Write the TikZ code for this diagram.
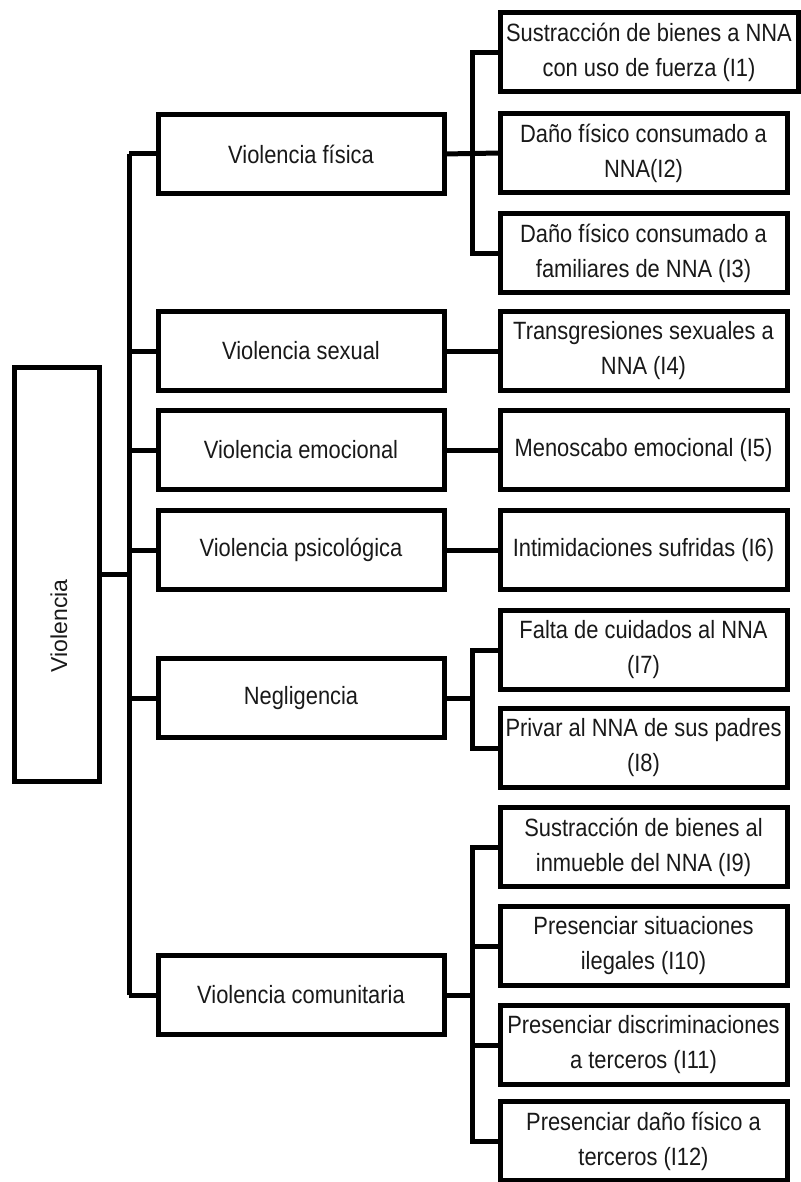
\documentclass[tikz,border=0pt]{standalone}
\usepackage{fontspec}
\newfontfamily\nar[FakeStretch=0.875]{Liberation Sans}
\newfontfamily\regf{Liberation Sans}
\begin{document}
\begin{tikzpicture}[x=1pt,y=-1pt,
  box/.style={draw=black,line width=5pt,rectangle,inner sep=0pt,outer sep=0pt,
    align=center,font=\nar\fontsize{25}{35}\selectfont,text=black!90},
  lvone/.style={box,minimum width=286pt,minimum height=79pt},
  lvtwo/.style={box,minimum width=287pt,minimum height=79pt},
  link/.style={draw=black,line width=5pt,line join=miter}]
\useasboundingbox[fill=white] (0,0) rectangle (800,1182);
% root
\node[box,minimum width=85pt,minimum height=414pt] (root) at (57,574) {};
\node[font=\regf\fontsize{23}{28}\selectfont,text=black!90,rotate=90,inner sep=0pt] (roottext) at (59,626) {Violencia};
% level 1
\node[lvone] (fis) at (301,154) {Violencia física};
\node[lvone] (sex) at (301,351) {Violencia sexual};
\node[lvone] (emo) at (301,450) {Violencia emocional};
\node[lvone] (psi) at (301,550) {Violencia psicológica};
\node[lvone] (neg) at (301,698) {Negligencia};
\node[lvone] (com) at (301,995) {Violencia comunitaria};
% level 2
\node[lvtwo,minimum width=298pt] (i1) at (649,52.5) {Sustracción de bienes a NNA\\con uso de fuerza (I1)};
\node[lvtwo] (i2) at (643.5,153) {Daño físico consumado a\\NNA(I2)};
\node[lvtwo] (i3) at (643.5,253) {Daño físico consumado a\\familiares de NNA (I3)};
\node[lvtwo] (i4) at (643.5,351) {Transgresiones sexuales a\\NNA (I4)};
\node[lvtwo] (i5) at (643.5,450) {Menoscabo emocional (I5)};
\node[lvtwo] (i6) at (643.5,550) {Intimidaciones sufridas (I6)};
\node[lvtwo] (i7) at (643.5,650) {Falta de cuidados al NNA\\(I7)};
\node[lvtwo] (i8) at (643.5,748) {Privar al NNA de sus padres\\(I8)};
\node[lvtwo] (i9) at (643.5,847) {Sustracción de bienes al\\inmueble del NNA (I9)};
\node[lvtwo] (i10) at (643.5,946) {Presenciar situaciones\\ilegales (I10)};
\node[lvtwo] (i11) at (643.5,1045) {Presenciar discriminaciones\\a terceros (I11)};
\node[lvtwo] (i12) at (643.5,1141) {Presenciar daño físico a\\terceros (I12)};
% bus coordinates
\coordinate (T) at (129,0);
\coordinate (B) at (472,0);
% root to trunk
\draw[link] (root.east) -- (T |- root.east);
\draw[link] (T |- fis.west) -- (T |- com.west);
\foreach \n in {fis,sex,emo,psi,neg,com}
  \draw[link] (T |- \n.west) -- (\n.west);
% fisica
\draw[link] (fis.east) -- (i2.west);
\draw[link] (i1.west) -- (B |- i1.west) -- (B |- i3.west) -- (i3.west);
% direct
\draw[link] (sex.east) -- (i4.west);
\draw[link] (emo.east) -- (i5.west);
\draw[link] (psi.east) -- (i6.west);
% negligencia
\draw[link] (neg.east) -- (B |- neg.east);
\draw[link] (i7.west) -- (B |- i7.west) -- (B |- i8.west) -- (i8.west);
% comunitaria
\draw[link] (com.east) -- (B |- com.east);
\draw[link] (i9.west) -- (B |- i9.west) -- (B |- i12.west) -- (i12.west);
\draw[link] (B |- i10.west) -- (i10.west);
\draw[link] (B |- i11.west) -- (i11.west);
\end{tikzpicture}
\end{document}
